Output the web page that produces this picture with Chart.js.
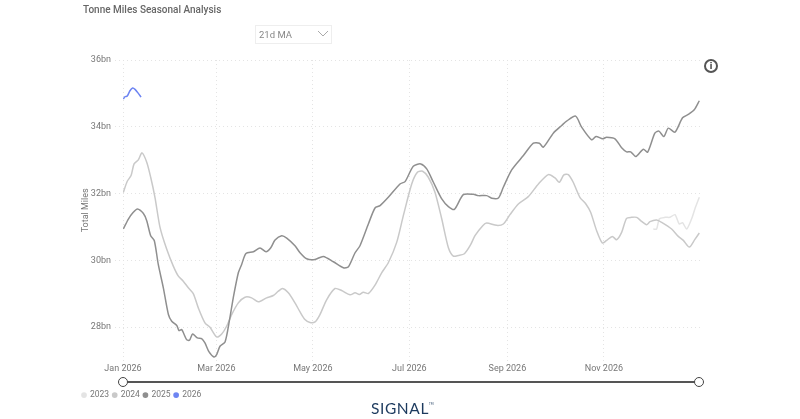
<!DOCTYPE html>
<html><head><meta charset="utf-8">
<script src="https://cdn.jsdelivr.net/npm/chart.js@4"></script>
<style>
html,body{margin:0;padding:0;background:#fff;}
#wrap{position:relative;width:800px;height:419px;overflow:hidden;font-family:Roboto,sans-serif;}
canvas{position:absolute;left:0;top:0;}
.t{position:absolute;white-space:nowrap;}
#title{left:83px;top:4px;font-size:10px;font-weight:500;color:#666;}
#dd{left:255px;top:25px;width:75px;height:17px;border:1px solid #eee;box-sizing:content-box;}
#dd span{position:absolute;left:3px;top:3px;font-size:9.5px;color:#888;}
#dd svg{position:absolute;right:2px;top:3px;}
#info{left:704px;top:59px;width:10px;height:10px;border:2px solid #555;border-radius:50%;text-align:center;font:bold 9px/10px "DejaVu Sans",sans-serif;color:#555;}
#track{position:absolute;left:123px;top:381px;width:576px;height:2px;background:#555;}
.knob{position:absolute;top:377px;width:8px;height:8px;border:1.5px solid #444;border-radius:50%;background:#fff;}
#logo{left:371px;top:399px;font:400 15.5px Lato,sans-serif;color:#1c3a5e;letter-spacing:.6px;}
#logo sup{font-size:3px;letter-spacing:0;vertical-align:top;position:relative;top:3px;}
</style></head><body>
<div id="wrap">
<canvas id="c" width="800" height="419"></canvas>
<div class="t" id="title">Tonne Miles Seasonal Analysis</div>
<div class="t" id="dd"><span>21d MA</span><svg width="12" height="10" viewBox="0 0 12 10"><path d="M1 2 L6 7 L11 2" fill="none" stroke="#aaa" stroke-width="1"/></svg></div>
<div class="t" id="info">i</div>
<div id="track"></div>
<div class="knob" style="left:118px"></div>
<div class="knob" style="left:694px"></div>
<div class="t" id="logo">SIGNAL<sup>TM</sup></div>
</div>
<script>
const seriesNames = ["2023","2024","2025","2026"];
const seriesColors = ["#e4e4e4","#c9c9c9","#8f8f8f","#6d84f2"];
const yTickValues = [28,30,32,34,36];
const xTickDays = [0,59,120,181,243,304];
const xTickLabels = ["Jan 2026","Mar 2026","May 2026","Jul 2026","Sep 2026","Nov 2026"];

const days2023 = [335.2,337.3,339,342.6,345.7,348.9,351.6,353.7,356.3,359.4,361.5,364.3];
const vals2023 = [30.94,30.94,31.24,31.29,31.29,31.37,31.09,31.13,30.94,31.24,31.54,31.89];

const days2024 = [0.2,2.7,5.1,7,9.7,12,15,17.5,20.2,23.4,27.6,31.8,35,38.1,41.3,44.5,47.6,51.8,55,59.2,62.4,65.5,68.7,72.9,77.1,81.3,85.5,90.8,95,98.2,100.9,104.5,108.7,111.9,115,118.2,121.4,124.5,128.8,134,138.2,143.5,146.7,149.4,151.9,155.1,159.3,163.5,167.7,173,177.2,182.5,186.1,189.4,193,197.2,201.5,205.7,208.8,212,215.8,219.4,222.5,227.4,229.9,236.2,240.4,244.6,249.9,256.2,262.6,268.9,273.1,275.8,278.7,281.5,284.6,288.8,292.6,295.6,299.4,303,305.7,309.3,312,315.2,318.3,321.5,324.7,327.8,331,333.1,337.3,340.5,346.8,351,354.2,358,361.5,364.3];
const vals2024 = [32.04,32.37,32.54,32.89,33.01,33.22,32.94,32.49,31.89,30.99,30.34,29.83,29.53,29.38,29.18,29.0,28.58,28.13,28.0,27.71,27.8,28.03,28.38,28.73,28.9,28.88,28.76,28.88,28.95,29.08,29.16,29.03,28.73,28.46,28.23,28.14,28.16,28.38,28.83,29.16,29.1,28.97,29.03,28.98,29.05,29.01,29.26,29.63,29.93,30.54,31.34,32.29,32.64,32.67,32.49,32.04,31.24,30.38,30.13,30.15,30.2,30.44,30.74,31.04,31.12,31.05,31.09,31.37,31.69,31.91,32.29,32.57,32.47,32.34,32.56,32.57,32.34,31.89,31.69,31.44,30.89,30.52,30.6,30.72,30.62,30.84,31.26,31.29,31.29,31.17,31.07,31.16,31.21,31.14,30.94,30.72,30.6,30.4,30.63,30.82];

const days2025 = [0.2,3.4,6.5,9.1,12.8,15,17.5,19.8,22.3,25.5,28.7,30.8,34,35.4,37.1,40.2,42,44,47,49.7,51.8,54.4,57.5,59.2,61.3,64.5,67.2,69.7,72.9,75,77.7,82.4,86.6,90.4,93.3,96.1,100.3,103.5,108.7,111.9,116.1,121.4,126.6,133,139.3,142.5,146.7,149.8,155.1,159.3,162.5,167.7,175.1,178.3,183.5,188.2,192,196.2,201.5,205.7,209.5,215.1,221.5,224.6,229.9,233.1,237.3,240.4,245.7,253.1,259.4,263.2,265.7,272,277.3,280.4,286.1,289.9,296.2,299,303.2,305.7,311,315.2,318.3,320.9,324.2,328.9,331.6,336.2,338.8,341.9,344.7,348.9,353.7,357.3,361.1,364.3];
const vals2025 = [30.94,31.24,31.44,31.54,31.41,31.19,30.74,30.59,29.88,29.18,28.38,28.18,28.05,27.9,27.93,27.63,27.61,27.8,27.68,27.66,27.53,27.26,27.11,27.18,27.43,27.56,28.18,28.88,29.63,29.88,30.21,30.26,30.37,30.26,30.37,30.61,30.74,30.67,30.44,30.23,30.05,30.03,30.12,29.96,29.78,29.81,30.23,30.44,31.09,31.57,31.64,31.89,32.29,32.36,32.82,32.89,32.74,32.34,31.84,31.61,31.53,31.97,31.98,31.94,31.94,31.86,31.87,32.19,32.71,33.14,33.51,33.51,33.39,33.81,34.04,34.17,34.32,33.99,33.61,33.71,33.64,33.69,33.64,33.37,33.25,33.25,33.11,33.33,33.24,33.81,33.87,33.71,33.96,33.84,34.27,34.37,34.51,34.78];

const days2026 = [0.2,1.2,2.7,4.4,6.1,7.6,9.7,11.4];
const vals2026 = [34.83,34.9,34.92,35.08,35.16,35.12,35.0,34.89];

const toPoints = (xs, ys) => xs.map((x, i) => ({x, y: ys[i]}));
const allDays = [days2023, days2024, days2025, days2026];
const allVals = [vals2023, vals2024, vals2025, vals2026];

const tickFont = {family:"Roboto, sans-serif", size:9};
const legendFont = {family:"Roboto, sans-serif", size:8.5};
const tickColor = "#777";
const gridColor = "#e4e4e4";

new Chart(document.getElementById("c"), {
  type: "line",
  data: {
    datasets: seriesNames.map((name, i) => ({
      label: name,
      data: toPoints(allDays[i], allVals[i]),
      borderColor: seriesColors[i],
      backgroundColor: seriesColors[i],
      borderWidth: 1.5,
      pointRadius: 0,
      tension: 0.25,
      order: 4 - i
    }))
  },
  options: {
    responsive: false,
    animation: false,
    layout: {padding: {left: 64, right: 98, top: 60, bottom: 22}},
    plugins: {
      title: {display: false},
      tooltip: {enabled: false},
      legend: {
        display: true,
        position: "bottom",
        align: "start",
        labels: {
          usePointStyle: true, pointStyle: "circle",
          boxWidth: 3.5, boxHeight: 3, padding: 3.85,
          font: legendFont, color: tickColor,
          sort: (a, b) => a.datasetIndex - b.datasetIndex
        }
      }
    },
    scales: {
      x: {
        type: "linear", min: 0, max: 366,
        afterBuildTicks: s => { s.ticks = xTickDays.map(value => ({value})); },
        afterFit: s => { s.height = 14; },
        ticks: {
          font: tickFont, color: tickColor, padding: 3, maxRotation: 0, autoSkip: false,
          callback: v => xTickLabels[xTickDays.indexOf(v)]
        },
        grid: {color: gridColor, drawTicks: false, tickLength: 0},
        border: {display: false, dash: [1,3]}
      },
      y: {
        min: 27, max: 36,
        afterBuildTicks: s => { s.ticks = yTickValues.map(value => ({value})); },
        afterFit: s => { s.width = 59; },
        ticks: {font: tickFont, color: tickColor, padding: 4, callback: v => v + "bn"},
        grid: {color: gridColor, tickLength: 8, tickColor: gridColor, tickBorderDash: [1,3]},
        border: {display: false, dash: [1,3]},
        title: {display: true, text: "Total Miles", font: tickFont, color: tickColor, padding: {top: 16, bottom: 0}}
      }
    }
  },
  plugins: [{
    id: "placeLegend",
    afterLayout(chart) {
      const lg = chart.legend;
      lg.left = 78.4;
      lg.top = 387;
      lg.right = 300;
      lg.bottom = 404;
      lg.width = 221.6;
      lg.height = 17;
    }
  }]
});
</script>
</body></html>
